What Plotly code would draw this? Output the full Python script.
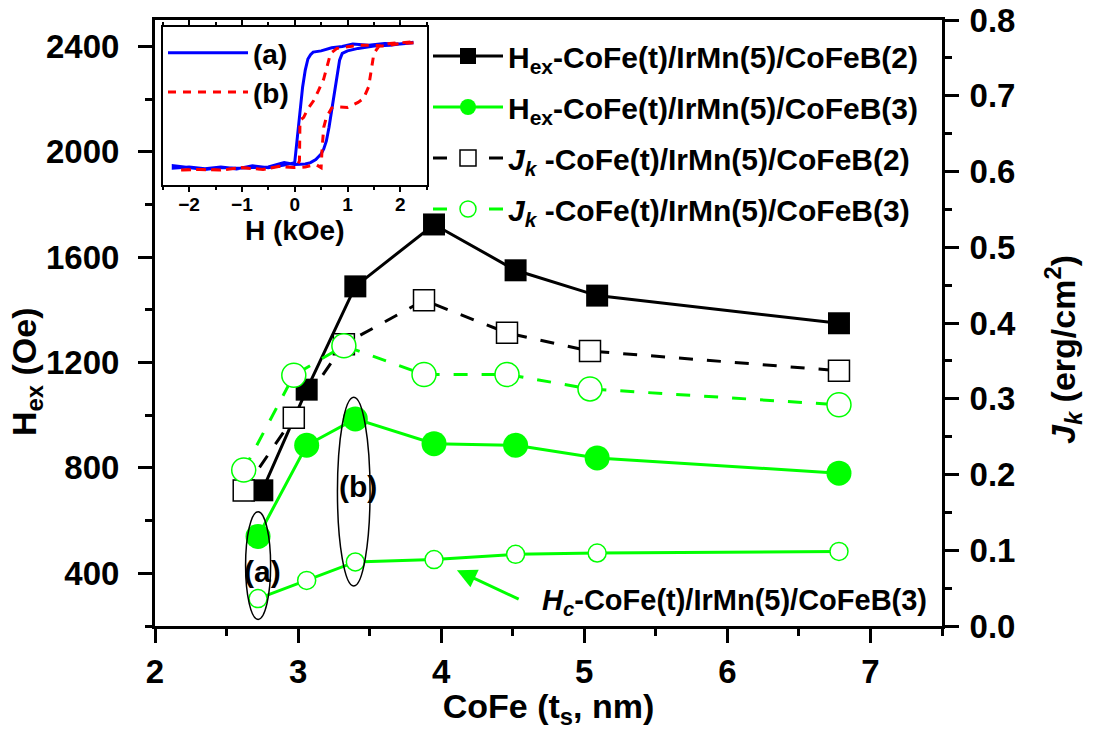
import plotly.graph_objects as go

# ---------------- main data ----------------
t_hex2 = [2.75, 3.06, 3.40, 3.95, 4.52, 5.09, 6.78]
hex_cofeb2 = [715, 1097, 1489, 1724, 1550, 1454, 1349]

t_hex3 = [2.72, 3.06, 3.40, 3.95, 4.52, 5.09, 6.78]
hex_cofeb3 = [540, 886, 986, 892, 886, 838, 780]
hc_cofeb3 = [304, 373, 443, 452, 472, 477, 483]

t_jk = [2.62, 2.97, 3.32, 3.88, 4.46, 5.04, 6.78]
jk_cofeb2 = [0.179, 0.275, 0.372, 0.430, 0.387, 0.363, 0.337]
jk_cofeb3 = [0.206, 0.331, 0.370, 0.332, 0.332, 0.313, 0.292]

names = [
    "H<sub>ex</sub>-CoFe(t)/IrMn(5)/CoFeB(2)",
    "H<sub>ex</sub>-CoFe(t)/IrMn(5)/CoFeB(3)",
    "<i>J<sub>k</sub></i> -CoFe(t)/IrMn(5)/CoFeB(2)",
    "<i>J<sub>k</sub></i> -CoFe(t)/IrMn(5)/CoFeB(3)",
]

# ---------------- inset data (hysteresis loops, normalized M) ----------------
a_H = [2.25, 2.0, 1.7, 1.4, 1.1, 0.9, 0.7, 0.5, 0.35, 0.3, 0.25, 0.2, 0.15, 0.1, 0.05, 0.0,
       -0.2, -0.5, -0.8, -1.1, -1.4, -1.7, -2.0, -2.3,
       -2.3, -2.0, -1.7, -1.4, -1.1, -0.8, -0.5, -0.2, 0.0, 0.2, 0.3, 0.4, 0.5, 0.55, 0.6,
       0.65, 0.7, 0.75, 0.8, 0.85, 0.9, 1.0, 1.2, 1.5, 1.8, 2.1, 2.25]
a_M = [1.01, 0.99, 1.0, 0.97, 0.99, 0.95, 0.93, 0.88, 0.86, 0.82, 0.75, 0.57, 0.30, -0.14, -0.57, -0.92,
       -0.96, -1.0, -0.97, -1.02, -0.99, -1.02, -0.99, -1.01,
       -0.97, -1.0, -1.03, -1.0, -1.01, -1.0, -0.99, -0.92, -0.95, -0.94, -0.92, -0.87, -0.78, -0.70, -0.57,
       -0.35, -0.08, 0.24, 0.51, 0.73, 0.84, 0.88, 0.92, 0.96, 0.97, 1.0, 1.02]

b_H = [2.25, 2.0, 1.7, 1.5, 1.2, 1.0, 0.8, 0.68, 0.55, 0.45, 0.36, 0.25, 0.17, 0.1, 0.09, 0.05, 0.0,
       -0.3, -0.6, -1.0, -1.4, -1.8, -2.2,
       -2.2, -1.8, -1.4, -1.0, -0.6, -0.3, 0.0, 0.2, 0.4, 0.5, 0.52, 0.55, 0.6, 0.7, 0.8, 1.0,
       1.2, 1.3, 1.4, 1.45, 1.5, 1.6, 1.8, 2.0, 2.25]
b_M = [1.01, 1.0, 0.96, 0.97, 0.97, 0.95, 0.92, 0.84, 0.43, 0.24, 0.08, -0.05, -0.19, -0.24, -0.89, -0.97, -1.0,
       -0.98, -1.03, -1.0, -1.04, -1.03, -1.04,
       -1.04, -1.03, -1.04, -1.0, -1.03, -0.98, -1.0, -0.99, -0.95, -1.0, -0.68, -0.35, -0.19, -0.04, -0.02, -0.03,
       0.05, 0.11, 0.30, 0.57, 0.84, 0.96, 1.0, 1.01, 1.03]

# annotation positions (data coords)
ellipse_a = [2.633, 225, 2.808, 634]
ellipse_b = [3.275, 352, 3.503, 1068]

GREEN = "#00FF00"
FONT = "Liberation Sans, Arial, sans-serif"

fig = go.Figure()

fig.add_trace(go.Scatter(x=t_hex2, y=hex_cofeb2, name=names[0], mode="lines+markers",
                         line=dict(color="black", width=3),
                         marker=dict(symbol="square", size=22, color="black"),
                         legend="legend", legendgroup="g1"))
fig.add_trace(go.Scatter(x=t_hex3, y=hex_cofeb3, name=names[1], mode="lines+markers",
                         line=dict(color=GREEN, width=3),
                         marker=dict(symbol="circle", size=25, color=GREEN),
                         legend="legend", legendgroup="g2"))
fig.add_trace(go.Scatter(x=t_jk, y=jk_cofeb2, name=names[2], mode="lines+markers", yaxis="y2",
                         line=dict(color="black", width=3, dash="14px,14px"),
                         marker=dict(symbol="square", size=21, color="white",
                                     line=dict(color="black", width=1.5)),
                         legend="legend", legendgroup="g3"))
fig.add_trace(go.Scatter(x=t_jk, y=jk_cofeb3, name=names[3], mode="lines+markers", yaxis="y2",
                         line=dict(color=GREEN, width=3, dash="14px,14px"),
                         marker=dict(symbol="circle", size=24, color="white",
                                     line=dict(color=GREEN, width=1.5)),
                         legend="legend", legendgroup="g4"))
fig.add_trace(go.Scatter(x=t_hex3, y=hc_cofeb3, name="Hc", mode="lines+markers",
                         line=dict(color=GREEN, width=3),
                         marker=dict(symbol="circle", size=18, color="white",
                                     line=dict(color=GREEN, width=1.5)),
                         showlegend=False))

# inset
fig.add_trace(go.Scatter(x=a_H, y=a_M, name="(a)", mode="lines", xaxis="x3", yaxis="y3",
                         line=dict(color="#0000FF", width=3), legend="legend2"))
fig.add_trace(go.Scatter(x=b_H, y=b_M, name="(b)", mode="lines", xaxis="x3", yaxis="y3",
                         line=dict(color="#FF0000", width=3, dash="8px,7px"), legend="legend2"))

L, R, T, B = 155, 151, 20, 104
W, H = 1093, 730
pw, ph = W - L - R, H - T - B


def px_x(p):
    return (p - L) / pw


def px_y(p):
    return (H - B - p) / ph


axis_common = dict(showgrid=False, zeroline=False, showline=True, linecolor="black",
                   linewidth=3, ticks="outside", ticklen=14, tickwidth=3, tickcolor="black",
                   tickfont=dict(family=FONT, size=33, color="black", weight="bold"))

fig.update_layout(
    width=W, height=H,
    margin=dict(l=L, r=R, t=T, b=B, autoexpand=False),
    paper_bgcolor="white", plot_bgcolor="white",
    font=dict(family=FONT, color="black"),
    xaxis=dict(range=[2, 7.5], tickvals=[2, 3, 4, 5, 6, 7], mirror=True,
               minor=dict(dtick=0.5, tick0=2, ticks="outside", ticklen=7, tickwidth=3, tickcolor="black"),
               title=dict(text="CoFe (t<sub>s</sub>, nm)", standoff=0,
                          font=dict(family=FONT, size=34, weight="bold")),
               **axis_common),
    yaxis=dict(range=[200, 2500], tick0=400, dtick=400, ticklabelstandoff=12,
               minor=dict(dtick=200, tick0=200, ticks="outside", ticklen=7, tickwidth=3, tickcolor="black"),
               **axis_common),
    yaxis2=dict(range=[0, 0.8], dtick=0.1, tickformat=".1f", overlaying="y", side="right",
                ticklabelstandoff=4,
                minor=dict(dtick=0.05, ticks="outside", ticklen=7, tickwidth=3, tickcolor="black"),
                **axis_common),
    xaxis3=dict(domain=[px_x(162.7), px_x(426.7)], anchor="y3", range=[-2.5, 2.5],
                tickvals=[-2, -1, 0, 1, 2], showgrid=False, zeroline=False, showline=True,
                linecolor="black", linewidth=2, mirror="allticks", ticks="outside", ticklen=5,
                tickwidth=2, tickcolor="black", ticklabelstandoff=-4,
                minor=dict(dtick=0.5, tick0=0, ticks="outside", ticklen=3, tickwidth=2, tickcolor="black"),
                tickfont=dict(family=FONT, size=19, weight="bold"),
                title=dict(text="H (kOe)", standoff=0,
                           font=dict(family=FONT, size=28, weight="bold"))),
    yaxis3=dict(domain=[px_y(185), px_y(27.3)], anchor="x3", range=[-1.28, 1.26],
                showgrid=False, zeroline=False, showline=True, linecolor="black", linewidth=2,
                mirror=True, ticks="", showticklabels=False),
    legend=dict(x=px_x(428), y=px_y(30), xanchor="left", yanchor="top",
                bgcolor="rgba(0,0,0,0)", itemwidth=70, traceorder="grouped", tracegroupgap=9,
                font=dict(family=FONT, size=30, weight="bold", color="black")),
    legend2=dict(x=px_x(163), y=px_y(28), xanchor="left", yanchor="top",
                 bgcolor="rgba(0,0,0,0)", itemwidth=80,
                 font=dict(family=FONT, size=28, weight="bold", color="black")),
    shapes=[
        dict(type="circle", xref="x", yref="y", x0=ellipse_a[0], y0=ellipse_a[1],
             x1=ellipse_a[2], y1=ellipse_a[3], line=dict(color="black", width=1.5)),
        dict(type="circle", xref="x", yref="y", x0=ellipse_b[0], y0=ellipse_b[1],
             x1=ellipse_b[2], y1=ellipse_b[3], line=dict(color="black", width=1.5)),
    ],
    annotations=[
        dict(x=px_x(27), y=px_y(372), xref="paper", yref="paper", textangle=-90,
             xanchor="center", yanchor="middle",
             text="<b>H<sub>ex</sub> (Oe)</b>", showarrow=False,
             font=dict(family=FONT, size=34, color="black")),
        dict(x=px_x(1063), y=px_y(350), xref="paper", yref="paper", textangle=-90,
             xanchor="center", yanchor="middle",
             text="<b><i>J<sub>k</sub></i> (erg/cm<sup>2</sup>)</b>", showarrow=False,
             font=dict(family=FONT, size=34, color="black")),
        dict(x=2.75, y=406, xref="x", yref="y", text="<b>(a)</b>", showarrow=False,
             font=dict(family=FONT, size=30, color="black")),
        dict(x=3.416, y=728, xref="x", yref="y", text="<b>(b)</b>", showarrow=False,
             font=dict(family=FONT, size=30, color="black")),
        dict(x=4.11, y=412, xref="x", yref="y", ax=4.552, ay=299, axref="x", ayref="y",
             text="", showarrow=True, arrowhead=2, arrowsize=1.3, arrowwidth=3, arrowcolor=GREEN),
        dict(x=4.69, y=292, xref="x", yref="y", xanchor="left", showarrow=False,
             text="<b><i>H<sub>c</sub></i>-CoFe(t)/IrMn(5)/CoFeB(3)</b>",
             font=dict(family=FONT, size=29, color="black")),
    ],
)

fig.write_html("out.html", config={"displayModeBar": False},
               post_script="document.body.style.margin='0';document.body.style.overflow='hidden';")
